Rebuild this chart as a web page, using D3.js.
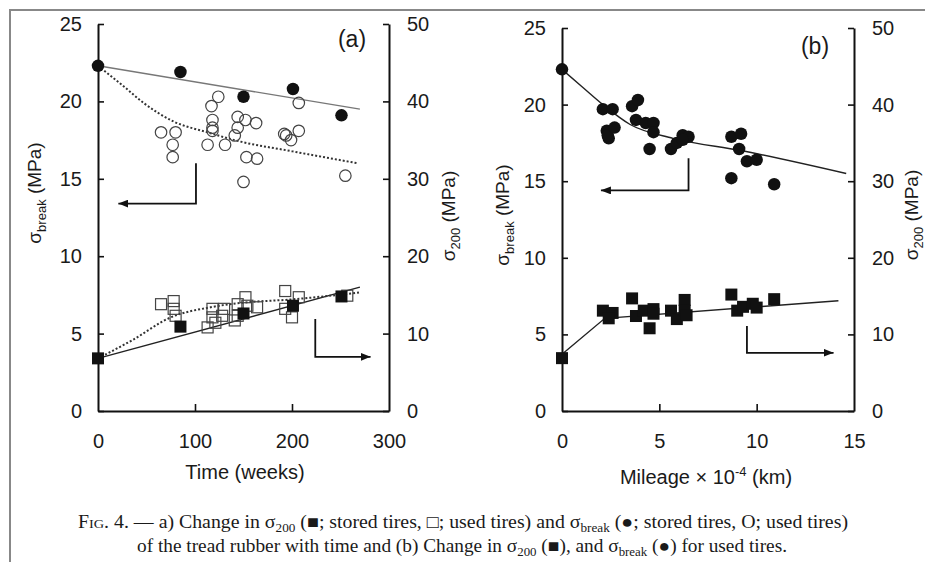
<!DOCTYPE html>
<html>
<head>
<meta charset="utf-8">
<script src="https://cdn.jsdelivr.net/npm/d3@7"></script>
<style>
  body { margin: 0; background: #fff; }
  svg { display: block; }
  text { font-family: "Liberation Sans", Arial, sans-serif; fill: #1a1a1a; }
  .cap { font-family: "Liberation Serif", "Times New Roman", serif; font-size: 18px; }
</style>
</head>
<body>
<div class="visHolder"></div>
<script>
// ---- panel (a): time in weeks ----
let stTime = [0, 85, 150, 201, 251];
let stBreak = [22.3, 21.9, 20.3, 20.8, 19.1];   // filled circles
let st200 = [6.8, 10.9, 12.6, 13.6, 14.8];       // filled squares

let usedBreakTime = [65, 80, 77, 77, 124, 117, 118, 118, 118, 113, 131, 144, 152, 163, 144, 141, 153, 164, 150, 207, 207, 192, 194, 199, 255];
let usedBreak = [18.0, 18.0, 17.2, 16.4, 20.3, 19.7, 18.8, 18.3, 18.1, 17.2, 17.2, 19.0, 18.8, 18.6, 18.3, 17.8, 16.4, 16.3, 14.8, 19.9, 18.1, 17.9, 17.8, 17.5, 15.2];

let used200Time = [65, 78, 78, 80, 113, 118, 118, 121, 130, 128, 144, 144, 141, 152, 154, 164, 193, 193, 200, 207, 257];
let used200 = [13.8, 14.2, 13.2, 12.3, 10.8, 13.2, 12.1, 11.4, 13.2, 12.3, 13.8, 12.3, 11.7, 14.7, 13.6, 13.4, 15.5, 13.2, 12.1, 14.7, 14.9];

let fitBreakStTime = [0, 270];
let fitBreakSt = [22.3, 19.5];
let fit200StTime = [0, 270];
let fit200St = [6.8, 16.0];
let fitBreakUsedTime = [0, 26, 47, 78, 113, 147, 198, 268];
let fitBreakUsed = [22.3, 21.0, 19.9, 18.7, 18.0, 17.4, 16.8, 16.0];
let fit200UsedTime = [0, 36, 75, 116, 150, 198, 269];
let fit200Used = [6.8, 9.2, 12.1, 13.4, 14.0, 14.4, 15.3];

// ---- panel (b): mileage x 10^-4 km ----
let mileBreak = [0, 2.1, 2.6, 2.3, 2.4, 2.35, 2.7, 3.6, 3.9, 3.8, 4.3, 4.7, 4.7, 4.5, 5.6, 5.9, 6.2, 6.5, 6.2, 8.7, 9.2, 9.1, 9.5, 10.0, 8.7, 10.9];
let breakB = [22.3, 19.7, 19.7, 18.3, 17.8, 18.0, 18.5, 19.9, 20.3, 19.0, 18.8, 18.8, 18.2, 17.1, 17.1, 17.5, 18.0, 17.9, 17.7, 17.9, 18.1, 17.1, 16.3, 16.4, 15.2, 14.8];

let mile200 = [0, 2.1, 2.6, 2.4, 3.6, 3.8, 4.2, 4.7, 4.7, 4.5, 5.6, 5.9, 6.3, 6.3, 6.4, 8.7, 9.0, 9.3, 9.8, 10.0, 10.9];
let s200B = [6.9, 13.1, 12.8, 12.1, 14.7, 12.4, 13.1, 13.3, 12.7, 10.8, 13.1, 12.0, 14.5, 13.1, 12.5, 15.2, 13.1, 13.6, 14.0, 13.5, 14.6];

let fitBreakBMile = [0, 1.0, 2.1, 3.5, 5.7, 9.2, 14.6];
let fitBreakB = [22.3, 21.2, 20.0, 18.7, 17.8, 17.0, 15.5];
let fit200BMile = [0, 2.2, 14.2];
let fit200B = [7.4, 12.1, 14.4];

let leftTicks = [0, 5, 10, 15, 20, 25];
let rightTicks = [0, 10, 20, 30, 40, 50];
let timeTicks = [0, 100, 200, 300];
let mileTicks = [0, 5, 10, 15];

let width = 925;
let height = 562;

let svg = d3.select('.visHolder').append('svg')
  .attr('width', width)
  .attr('height', height);

// scan frame
svg.append('path')
  .attr('d', 'M10,562V10H925')
  .attr('fill', 'none')
  .attr('stroke', '#888')
  .attr('stroke-width', 2);

svg.append('defs').append('marker')
  .attr('id', 'arrow')
  .attr('viewBox', '0 0 10 8')
  .attr('refX', 10).attr('refY', 4)
  .attr('markerWidth', 10).attr('markerHeight', 8)
  .attr('markerUnits', 'userSpaceOnUse')
  .attr('orient', 'auto')
  .append('path').attr('d', 'M0,0L10,4L0,8Z').attr('fill', '#111');

function zip(xs, ys) { return xs.map((x, i) => [x, ys[i]]); }

function drawPanel(p) {
  let g = svg.append('g');
  let x = d3.scaleLinear().domain(p.xDomain).range([p.x0, p.x1]);
  let yL = d3.scaleLinear().domain([0, 25]).range([p.yBot, p.yTop]);
  let yR = d3.scaleLinear().domain([0, 50]).range([p.yBot, p.yTop]);

  let axL = g.append('g').attr('transform', 'translate(' + p.x0 + ',0)')
    .call(d3.axisLeft(yL).tickValues(leftTicks).tickSize(-6).tickSizeOuter(0).tickPadding(16));
  let axR = g.append('g').attr('transform', 'translate(' + p.x1 + ',0)')
    .call(d3.axisRight(yR).tickValues(rightTicks).tickSize(-6).tickSizeOuter(0).tickPadding(18));
  let axB = g.append('g').attr('transform', 'translate(0,' + p.yBot + ')')
    .call(d3.axisBottom(x).tickValues(p.xTicks).tickSize(-7).tickSizeOuter(0).tickPadding(23));

  [axL, axR, axB].forEach(a => {
    a.select('.domain').attr('stroke', '#111').attr('stroke-width', 2);
    a.selectAll('.tick line').attr('stroke', '#111').attr('stroke-width', 1.6);
    a.selectAll('.tick text').attr('font-size', 20).attr('font-family', '"Liberation Sans", Arial, sans-serif').attr('fill', '#1a1a1a');
  });
  axB.selectAll('.tick').filter(d => d === p.xDomain[0] || d === p.xDomain[1]).select('line').remove();

  let lineL = d3.line().x(d => x(d[0])).y(d => yL(d[1]));
  let lineR = d3.line().x(d => x(d[0])).y(d => yR(d[1]));

  p.lines.forEach(l => {
    g.append('path')
      .attr('d', (l.right ? lineR : lineL).curve(l.curve || d3.curveLinear)(l.data))
      .attr('fill', 'none')
      .attr('stroke', l.color)
      .attr('stroke-width', l.w)
      .attr('stroke-dasharray', l.dash || null);
  });

  p.marks.forEach(m => {
    let ys = m.right ? yR : yL;
    let sel = g.append('g').selectAll(m.shape === 'sq' ? 'rect' : 'circle').data(m.data).join(m.shape === 'sq' ? 'rect' : 'circle');
    if (m.shape === 'sq') {
      sel.attr('x', d => x(d[0]) - m.size / 2).attr('y', d => ys(d[1]) - m.size / 2)
        .attr('width', m.size).attr('height', m.size);
    } else {
      sel.attr('cx', d => x(d[0])).attr('cy', d => ys(d[1])).attr('r', m.size / 2);
    }
    if (m.open) sel.attr('fill', 'none').attr('stroke', '#444').attr('stroke-width', 1.2);
    else sel.attr('fill', '#111');
  });

  p.arrows.forEach(a => {
    let ys = a.right ? yR : yL;
    g.append('path')
      .attr('d', 'M' + x(a.x) + ',' + ys(a.y0) + 'V' + ys(a.y1) + 'H' + x(a.tip))
      .attr('fill', 'none').attr('stroke', '#111').attr('stroke-width', 1.8)
      .attr('marker-end', 'url(#arrow)');
  });

  g.append('text').attr('x', p.tag[0]).attr('y', p.tag[1])
    .attr('text-anchor', 'middle').attr('font-size', 23).text(p.tagText);

  return { x, yL, yR };
}

drawPanel({
  x0: 98, x1: 389, yTop: 24, yBot: 411,
  xDomain: [0, 300], xTicks: timeTicks,
  lines: [
    { data: zip(fitBreakStTime, fitBreakSt), color: '#777', w: 1.4 },
    { data: zip(fit200StTime, fit200St), right: true, color: '#222', w: 1.4 },
    { data: zip(fitBreakUsedTime, fitBreakUsed), color: '#333', w: 2, dash: '2,2', curve: d3.curveMonotoneX },
    { data: zip(fit200UsedTime, fit200Used), right: true, color: '#333', w: 2, dash: '2,2', curve: d3.curveMonotoneX }
  ],
  marks: [
    { data: zip(usedBreakTime, usedBreak), shape: 'ci', open: true, size: 11.5 },
    { data: zip(used200Time, used200), right: true, shape: 'sq', open: true, size: 11 },
    { data: zip(stTime, stBreak), shape: 'ci', size: 12.5 },
    { data: zip(stTime, st200), right: true, shape: 'sq', size: 12 }
  ],
  arrows: [
    { x: 101, y0: 16.0, y1: 13.4, tip: 21 },
    { x: 224, y0: 11.9, y1: 7.0, tip: 281, right: true }
  ],
  tag: [352, 47], tagText: '(a)'
});

drawPanel({
  x0: 562, x1: 854, yTop: 28, yBot: 411,
  xDomain: [0, 15], xTicks: mileTicks,
  lines: [
    { data: zip(fitBreakBMile, fitBreakB), color: '#222', w: 1.4, curve: d3.curveMonotoneX },
    { data: zip(fit200BMile, fit200B), right: true, color: '#222', w: 1.4 }
  ],
  marks: [
    { data: zip(mileBreak, breakB), shape: 'ci', size: 12.5 },
    { data: zip(mile200, s200B), right: true, shape: 'sq', size: 12 }
  ],
  arrows: [
    { x: 6.5, y0: 16.5, y1: 14.4, tip: 2.0 },
    { x: 9.5, y0: 11.1, y1: 7.6, tip: 13.95, right: true }
  ],
  tag: [815, 54], tagText: '(b)'
});

// axis titles
function sigmaLabel(cx, cy, sub) {
  let t = svg.append('text')
    .attr('transform', 'translate(' + cx + ',' + cy + ') rotate(-90)')
    .attr('text-anchor', 'middle').attr('font-size', 19);
  t.append('tspan').text('σ');
  t.append('tspan').attr('font-size', 13).attr('dy', 5).text(sub);
  t.append('tspan').attr('dy', -5).text(' (MPa)');
}
sigmaLabel(41, 193, 'break');
sigmaLabel(455, 216, '200');
sigmaLabel(509, 215, 'break');
sigmaLabel(918, 215, '200');

svg.append('text').attr('x', 245).attr('y', 479).attr('text-anchor', 'middle')
  .attr('font-size', 20).text('Time (weeks)');

let mt = svg.append('text').attr('x', 706).attr('y', 484).attr('text-anchor', 'middle').attr('font-size', 20);
mt.append('tspan').text('Mileage × 10');
mt.append('tspan').attr('font-size', 13).attr('dy', -8).text('-4');
mt.append('tspan').attr('dy', 8).text(' (km)');

// caption
let c1 = svg.append('text').attr('class', 'cap').attr('x', 78).attr('y', 528)
  .attr('textLength', 770).attr('lengthAdjust', 'spacingAndGlyphs');
c1.append('tspan').attr('font-variant', 'small-caps').text('Fig');
c1.append('tspan').text('. 4. — a) Change in σ');
c1.append('tspan').attr('font-size', 12).attr('dy', 4).text('200');
c1.append('tspan').attr('dy', -4).text(' (■; stored tires, □; used tires) and σ');
c1.append('tspan').attr('font-size', 12).attr('dy', 4).text('break');
c1.append('tspan').attr('dy', -4).text(' (●; stored tires, O; used tires)');

let c2 = svg.append('text').attr('class', 'cap').attr('x', 137).attr('y', 552)
  .attr('textLength', 650).attr('lengthAdjust', 'spacingAndGlyphs');
c2.append('tspan').text('of the tread rubber with time and (b) Change in σ');
c2.append('tspan').attr('font-size', 12).attr('dy', 4).text('200');
c2.append('tspan').attr('dy', -4).text(' (■), and σ');
c2.append('tspan').attr('font-size', 12).attr('dy', 4).text('break');
c2.append('tspan').attr('dy', -4).text(' (●) for used tires.');
</script>
</body>
</html>
